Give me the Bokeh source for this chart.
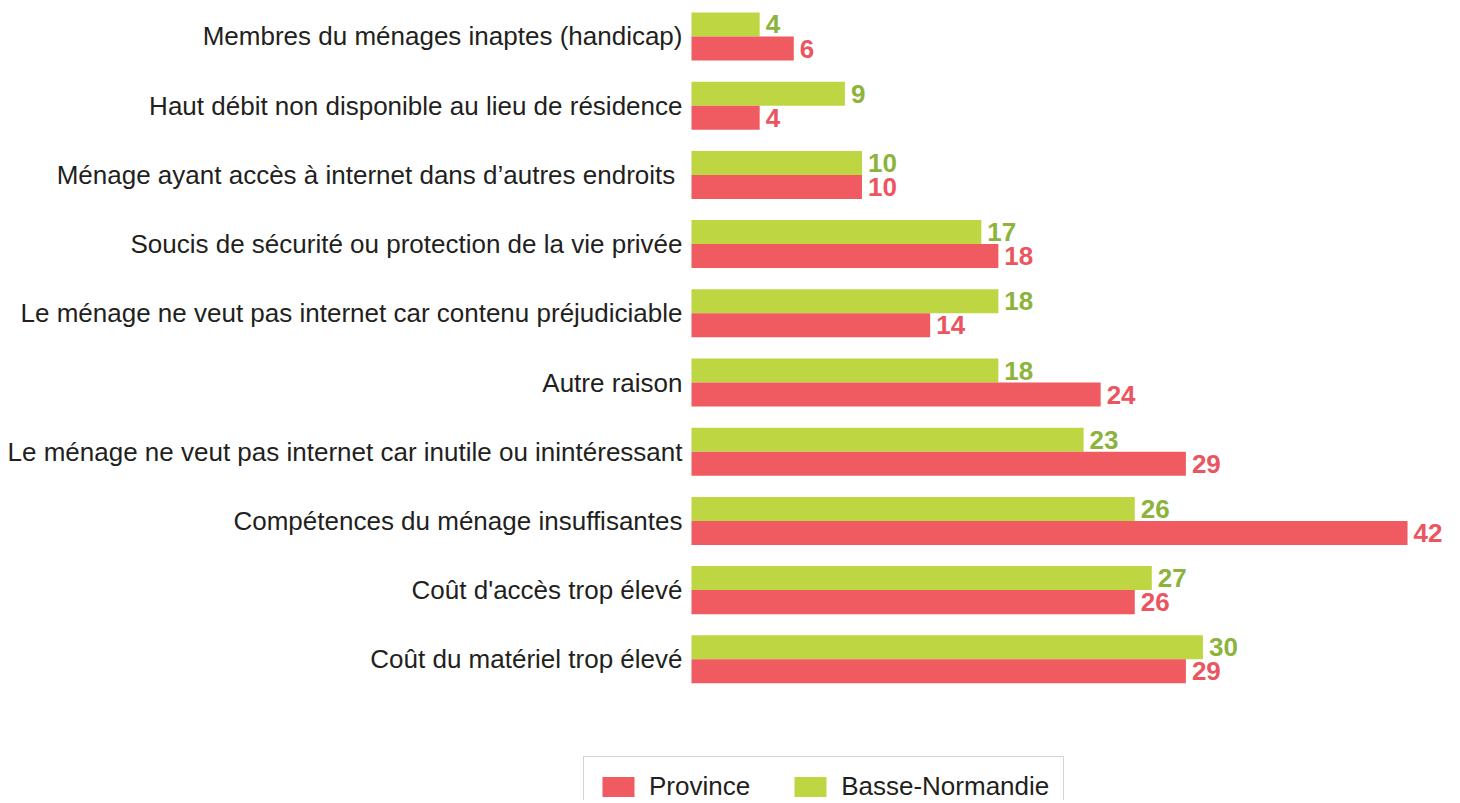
import numpy as np
from bokeh.plotting import figure
from bokeh.models import Range1d, FixedTicker, Legend, LegendItem, ColumnDataSource
from bokeh.core.properties import value
from bokeh.embed import file_html
from bokeh.resources import INLINE

categories = [
    "Membres du ménages inaptes (handicap)",
    "Haut débit non disponible au lieu de résidence",
    "Ménage ayant accès à internet dans d’autres endroits ",
    "Soucis de sécurité ou protection de la vie privée",
    "Le ménage ne veut pas internet car contenu préjudiciable",
    "Autre raison",
    "Le ménage ne veut pas internet car inutile ou inintéressant",
    "Compétences du ménage insuffisantes",
    "Coût d'accès trop élevé",
    "Coût du matériel trop élevé",
]
basse_normandie = [4, 9, 10, 17, 18, 18, 23, 26, 27, 30]
province = [6, 4, 10, 18, 14, 24, 29, 42, 26, 29]

GREEN = "#BED642"
RED = "#F05B62"
GREEN_TXT = "#8CB43C"
RED_TXT = "#EB555F"
FONT = "Liberation Sans"

pos = np.arange(len(categories))
half = 0.1735
src_bn = ColumnDataSource(dict(y=pos - half, v=basse_normandie, t=[str(v) for v in basse_normandie]))
src_pr = ColumnDataSource(dict(y=pos + half, v=province, t=[str(v) for v in province]))

p = figure(width=1450, height=800, output_backend="svg", toolbar_location=None,
           x_range=Range1d(-6.334, 44.52), y_range=Range1d(11.04, -0.4046),
           x_axis_location=None, min_border_left=583, min_border_right=0,
           min_border_top=8, min_border_bottom=0, outline_line_color=None)
p.grid.visible = False

r_bn = p.hbar(y="y", right="v", left=0, height=0.347, source=src_bn, fill_color=GREEN, line_color=None)
r_pr = p.hbar(y="y", right="v", left=0, height=0.347, source=src_pr, fill_color=RED, line_color=None)

p.text(x="v", y="y", text="t", source=src_bn, x_offset=6, text_baseline="middle", text_align="left",
       text_font=value(FONT), text_font_style="bold", text_font_size="26px", text_color=GREEN_TXT)
p.text(x="v", y="y", text="t", source=src_pr, x_offset=6, text_baseline="middle", text_align="left",
       text_font=value(FONT), text_font_style="bold", text_font_size="26px", text_color=RED_TXT)

ax = p.yaxis[0]
ax.ticker = FixedTicker(ticks=list(pos))
ax.major_label_overrides = {int(i): c for i, c in zip(pos, categories)}
ax.axis_line_color = None
ax.major_tick_line_color = None
ax.minor_tick_line_color = None
ax.major_tick_out = 0
ax.major_tick_in = 0
ax.major_label_standoff = -99
ax.major_label_text_font = FONT
ax.major_label_text_font_size = "26px"
ax.major_label_text_color = "#231F20"

legend = Legend(items=[LegendItem(label="Province", renderers=[r_pr]),
                       LegendItem(label="Basse-Normandie", renderers=[r_bn])],
                orientation="horizontal", location=(0, -17),
                glyph_width=40, glyph_height=25, label_height=30, label_standoff=11, spacing=40, padding=14,
                label_text_font=FONT, label_text_font_size="26px", label_text_color="#231F20",
                border_line_color="#A8A8A8", border_line_width=1.5, background_fill_color="white",
                background_fill_alpha=1.0)
p.add_layout(legend)

open("out.html", "w").write(file_html(p, INLINE))
